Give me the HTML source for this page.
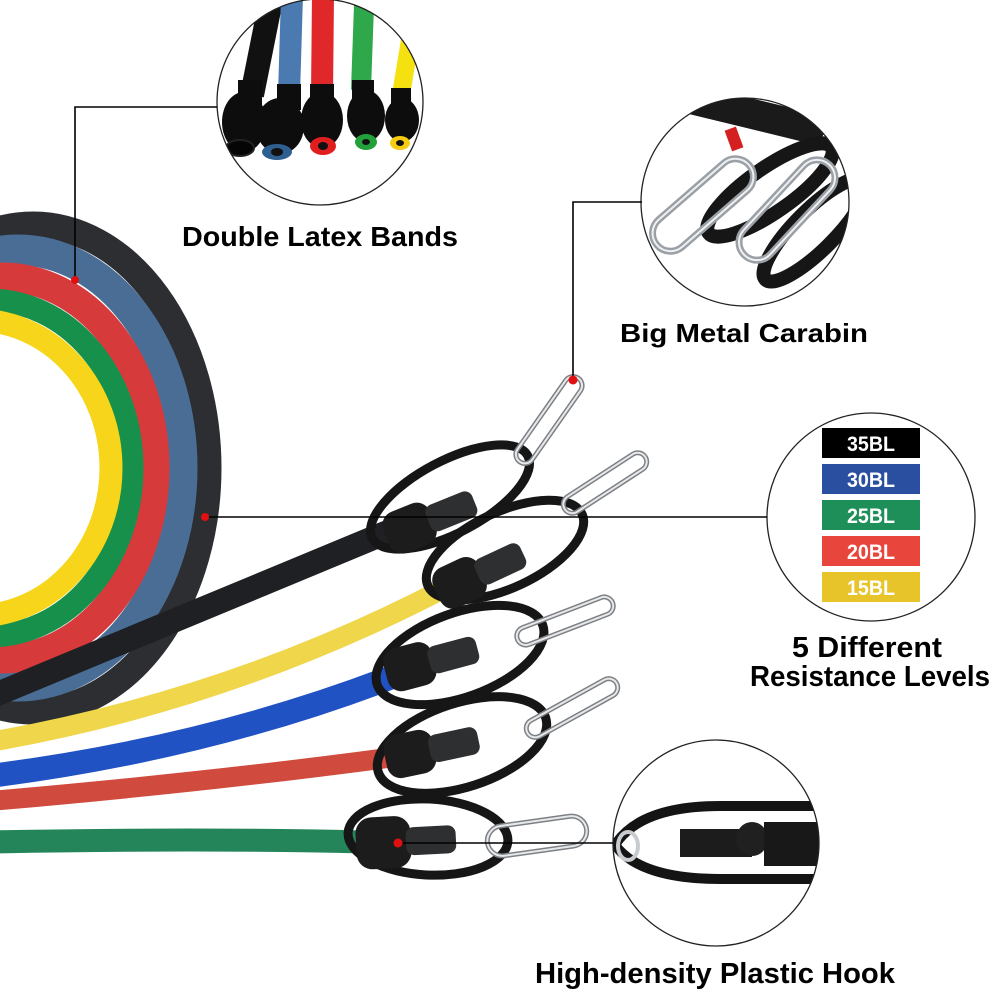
<!DOCTYPE html>
<html>
<head>
<meta charset="utf-8">
<style>
  html, body { margin: 0; padding: 0; background: #fff; }
  svg { display: block; }
  text { font-family: "Liberation Sans", Arial, sans-serif; font-weight: bold; }
</style>
</head>
<body>
<svg width="994" height="992" viewBox="0 0 994 992" xmlns="http://www.w3.org/2000/svg">
  <defs>
    <clipPath id="c1"><circle cx="320" cy="102" r="103"/></clipPath>
    <clipPath id="c2"><circle cx="745" cy="202" r="104"/></clipPath>
    <clipPath id="c4"><circle cx="716" cy="843" r="103"/></clipPath>
  </defs>
  <rect width="994" height="992" fill="#fff"/>

  <!-- Coiled bands -->
  <ellipse cx="33" cy="468" rx="175" ry="243" fill="none" stroke="#2c2e32" stroke-width="27"/>
  <ellipse cx="18" cy="468" rx="164" ry="218" fill="none" stroke="#4a6d96" stroke-width="31"/>
  <ellipse cx="2" cy="468" rx="153" ry="191" fill="none" stroke="#d73a3b" stroke-width="29"/>
  <ellipse cx="-11" cy="468" rx="143" ry="168" fill="none" stroke="#16904a" stroke-width="23"/>
  <ellipse cx="-24" cy="468" rx="135" ry="148" fill="none" stroke="#f6d51a" stroke-width="23"/>

  <!-- Straight bands -->
  <path d="M -10 697 L 395 529" stroke="#1f2023" stroke-width="24" fill="none"/>
  <path d="M -10 742 Q 230 700 445 588" stroke="#efd64a" stroke-width="20" fill="none"/>
  <path d="M -10 776 Q 210 748 400 674" stroke="#2152c4" stroke-width="24" fill="none"/>
  <path d="M -10 801 Q 210 782 395 757" stroke="#d04a3e" stroke-width="20" fill="none"/>
  <path d="M -10 842 Q 200 838 365 842" stroke="#25855a" stroke-width="23" fill="none"/>

  <!-- Handle 1 -->
  <ellipse cx="450" cy="497" rx="88" ry="36" transform="rotate(-28 450 497)" fill="none" stroke="#161616" stroke-width="9"/>
  <g transform="translate(405,530) rotate(-22)">
    <rect x="-20" y="-22" width="50" height="44" rx="14" fill="#1c1c1c"/>
    <rect x="25" y="-14" width="50" height="28" rx="8" fill="#2e2f31"/>
  </g>
  <g transform="translate(549,420) rotate(-55)">
    <rect x="-51" y="-9" width="102" height="18" rx="9" fill="none" stroke="#7d8084" stroke-width="5"/>
    <rect x="-51" y="-9" width="102" height="18" rx="9" fill="none" stroke="#e6e8ea" stroke-width="2"/>
  </g>

  <!-- Handle 2 -->
  <ellipse cx="505" cy="550" rx="85" ry="38" transform="rotate(-25 505 550)" fill="none" stroke="#161616" stroke-width="9"/>
  <g transform="translate(455,585) rotate(-25)">
    <rect x="-20" y="-22" width="50" height="44" rx="14" fill="#1c1c1c"/>
    <rect x="25" y="-14" width="50" height="28" rx="8" fill="#2e2f31"/>
  </g>
  <g transform="translate(605,483) rotate(-33)">
    <rect x="-48" y="-9" width="96" height="18" rx="9" fill="none" stroke="#7d8084" stroke-width="5"/>
    <rect x="-48" y="-9" width="96" height="18" rx="9" fill="none" stroke="#e6e8ea" stroke-width="2"/>
  </g>

  <!-- Handle 3 -->
  <ellipse cx="460" cy="655" rx="88" ry="42" transform="rotate(-20 460 655)" fill="none" stroke="#161616" stroke-width="9"/>
  <g transform="translate(405,668) rotate(-15)">
    <rect x="-20" y="-22" width="50" height="44" rx="14" fill="#1c1c1c"/>
    <rect x="25" y="-14" width="50" height="28" rx="8" fill="#2e2f31"/>
  </g>
  <g transform="translate(565,621) rotate(-21)">
    <rect x="-51" y="-9" width="102" height="18" rx="9" fill="none" stroke="#7d8084" stroke-width="5"/>
    <rect x="-51" y="-9" width="102" height="18" rx="9" fill="none" stroke="#e6e8ea" stroke-width="2"/>
  </g>

  <!-- Handle 4 -->
  <ellipse cx="462" cy="745" rx="88" ry="42" transform="rotate(-18 462 745)" fill="none" stroke="#161616" stroke-width="9"/>
  <g transform="translate(405,755) rotate(-12)">
    <rect x="-20" y="-22" width="50" height="44" rx="14" fill="#1c1c1c"/>
    <rect x="25" y="-14" width="50" height="28" rx="8" fill="#2e2f31"/>
  </g>
  <g transform="translate(572,708) rotate(-29)">
    <rect x="-51" y="-9" width="102" height="18" rx="9" fill="none" stroke="#7d8084" stroke-width="5"/>
    <rect x="-51" y="-9" width="102" height="18" rx="9" fill="none" stroke="#e6e8ea" stroke-width="2"/>
  </g>

  <!-- Handle 5 -->
  <ellipse cx="428" cy="837" rx="80" ry="38" transform="rotate(3 428 837)" fill="none" stroke="#161616" stroke-width="9"/>
  <g transform="translate(378,843) rotate(-3)">
    <rect x="-22" y="-26" width="55" height="52" rx="16" fill="#1c1c1c"/>
    <rect x="28" y="-14" width="50" height="28" rx="8" fill="#2e2f31"/>
  </g>
  <g transform="translate(537,836) rotate(-8)">
    <rect x="-50" y="-15" width="100" height="30" rx="15" fill="none" stroke="#7d8084" stroke-width="5"/>
    <rect x="-50" y="-15" width="100" height="30" rx="15" fill="none" stroke="#e6e8ea" stroke-width="2"/>
  </g>

  <!-- Inset circle 1: Double Latex Bands -->
  <circle cx="320" cy="102" r="103" fill="#fff"/>
  <g clip-path="url(#c1)">
    <path d="M 272 -5 L 252 95" stroke="#111" stroke-width="24" fill="none"/>
    <path d="M 292 -5 L 289 95" stroke="#4a7ab0" stroke-width="22" fill="none"/>
    <path d="M 323 -5 L 322 95" stroke="#e0282a" stroke-width="22" fill="none"/>
    <path d="M 364 5 L 361 90" stroke="#2ea84a" stroke-width="20" fill="none"/>
    <path d="M 410 40 L 401 95" stroke="#f5e010" stroke-width="18" fill="none"/>
    <rect x="238" y="80" width="24" height="30" fill="#0d0d0d"/>
    <ellipse cx="244" cy="122" rx="22" ry="30" fill="#0d0d0d"/>
    <ellipse cx="240" cy="148" rx="14" ry="8" fill="#050505" stroke="#222" stroke-width="2"/>
    <rect x="277" y="84" width="24" height="26" fill="#0d0d0d"/>
    <ellipse cx="280" cy="126" rx="24" ry="28" fill="#0d0d0d"/>
    <ellipse cx="277" cy="152" rx="15" ry="8" fill="#2f5f90"/>
    <ellipse cx="277" cy="152" rx="6" ry="4" fill="#111"/>
    <rect x="310" y="84" width="24" height="22" fill="#0d0d0d"/>
    <ellipse cx="322" cy="120" rx="21" ry="28" fill="#0d0d0d"/>
    <ellipse cx="323" cy="146" rx="13" ry="9" fill="#e01e1e"/>
    <ellipse cx="323" cy="146" rx="5" ry="4" fill="#111"/>
    <rect x="352" y="80" width="22" height="22" fill="#0d0d0d"/>
    <ellipse cx="366" cy="116" rx="19" ry="26" fill="#0d0d0d"/>
    <ellipse cx="366" cy="142" rx="11" ry="8" fill="#22a03a"/>
    <ellipse cx="366" cy="142" rx="4" ry="3" fill="#111"/>
    <rect x="391" y="88" width="20" height="20" fill="#0d0d0d"/>
    <ellipse cx="402" cy="120" rx="17" ry="22" fill="#0d0d0d"/>
    <ellipse cx="400" cy="143" rx="10" ry="7" fill="#f5cc10"/>
    <ellipse cx="400" cy="143" rx="4" ry="3" fill="#111"/>
  </g>
  <circle cx="320" cy="102" r="103" fill="none" stroke="#222" stroke-width="1.3"/>

  <!-- Inset circle 2: Carabin -->
  <circle cx="745" cy="202" r="104" fill="#fff"/>
  <g clip-path="url(#c2)">
    <path d="M 695 100 L 810 128" stroke="#1a1a1a" stroke-width="30" stroke-linecap="round" fill="none"/>
    <ellipse cx="770" cy="190" rx="75" ry="22" transform="rotate(-35 770 190)" fill="none" stroke="#161616" stroke-width="14"/>
    <ellipse cx="815" cy="230" rx="70" ry="20" transform="rotate(-45 815 230)" fill="none" stroke="#161616" stroke-width="14"/>
    <rect x="728" y="128" width="12" height="22" fill="#d42020" transform="rotate(-20 734 139)"/>
    <g transform="translate(703,205) rotate(-41)">
      <rect x="-61" y="-18" width="122" height="36" rx="18" fill="none" stroke="#9aa0a5" stroke-width="7"/>
      <rect x="-61" y="-18" width="122" height="36" rx="18" fill="none" stroke="#eef0f2" stroke-width="2"/>
    </g>
    <g transform="translate(787,210) rotate(-47)">
      <rect x="-62" y="-18" width="124" height="36" rx="18" fill="none" stroke="#9aa0a5" stroke-width="7"/>
      <rect x="-62" y="-18" width="124" height="36" rx="18" fill="none" stroke="#eef0f2" stroke-width="2"/>
    </g>
  </g>
  <circle cx="745" cy="202" r="104" fill="none" stroke="#222" stroke-width="1.3"/>

  <!-- Inset circle 3: Resistance levels -->
  <circle cx="871" cy="517" r="104" fill="#fff" stroke="#222" stroke-width="1.3"/>
  <rect x="822" y="428" width="98" height="30" fill="#000"/>
  <rect x="822" y="464" width="98" height="30" fill="#2a4ea0"/>
  <rect x="822" y="500" width="98" height="30" fill="#1f8f5a"/>
  <rect x="822" y="536" width="98" height="30" fill="#e8453c"/>
  <rect x="822" y="572" width="98" height="30" fill="#e6c42a"/>
  <text x="847" y="451" font-size="21" fill="#fff" textLength="48" lengthAdjust="spacingAndGlyphs">35BL</text>
  <text x="847" y="487" font-size="21" fill="#fff" textLength="48" lengthAdjust="spacingAndGlyphs">30BL</text>
  <text x="847" y="523" font-size="21" fill="#fff" textLength="48" lengthAdjust="spacingAndGlyphs">25BL</text>
  <text x="847" y="559" font-size="21" fill="#fff" textLength="48" lengthAdjust="spacingAndGlyphs">20BL</text>
  <text x="847" y="595" font-size="21" fill="#fff" textLength="48" lengthAdjust="spacingAndGlyphs">15BL</text>

  <!-- Inset circle 4: Plastic hook -->
  <circle cx="716" cy="843" r="103" fill="#fff"/>
  <g clip-path="url(#c4)">
    <path d="M 615 845 Q 640 806 720 806 L 840 806 L 840 879 L 720 879 Q 640 879 615 845 Z" fill="#fff" stroke="#141414" stroke-width="10"/>
    <rect x="680" y="829" width="72" height="28" fill="#1c1c1c"/>
    <ellipse cx="752" cy="839" rx="16" ry="17" fill="#202020"/>
    <rect x="764" y="822" width="70" height="44" fill="#181818"/>
    <ellipse cx="628" cy="846" rx="10" ry="14" fill="none" stroke="#c8ccd0" stroke-width="4"/>
  </g>
  <circle cx="716" cy="843" r="103" fill="none" stroke="#222" stroke-width="1.3"/>

  <!-- Connector lines -->
  <polyline points="75,280 75,107 217,107" fill="none" stroke="#000" stroke-width="1.6"/>
  <polyline points="573,380 573,202 642,202" fill="none" stroke="#000" stroke-width="1.6"/>
  <line x1="205" y1="517" x2="767" y2="517" stroke="#000" stroke-width="1.6"/>
  <line x1="398" y1="843" x2="613" y2="843" stroke="#000" stroke-width="1.6"/>

  <!-- Red dots -->
  <circle cx="75" cy="280" r="4" fill="#e01010"/>
  <circle cx="573" cy="380" r="4.5" fill="#e01010"/>
  <circle cx="205" cy="517" r="4" fill="#e01010"/>
  <circle cx="398" cy="843" r="4.5" fill="#e01010"/>

  <!-- Labels -->
  <text x="182" y="246" font-size="28" fill="#000" textLength="276" lengthAdjust="spacingAndGlyphs">Double Latex Bands</text>
  <text x="620" y="342" font-size="26" fill="#000" textLength="248" lengthAdjust="spacingAndGlyphs">Big Metal Carabin</text>
  <text x="792" y="657" font-size="29" fill="#000" textLength="150" lengthAdjust="spacingAndGlyphs">5 Different</text>
  <text x="750" y="686" font-size="29" fill="#000" textLength="240" lengthAdjust="spacingAndGlyphs">Resistance Levels</text>
  <text x="535" y="983" font-size="29" fill="#000" textLength="360" lengthAdjust="spacingAndGlyphs">High-density Plastic Hook</text>
</svg>
</body>
</html>
